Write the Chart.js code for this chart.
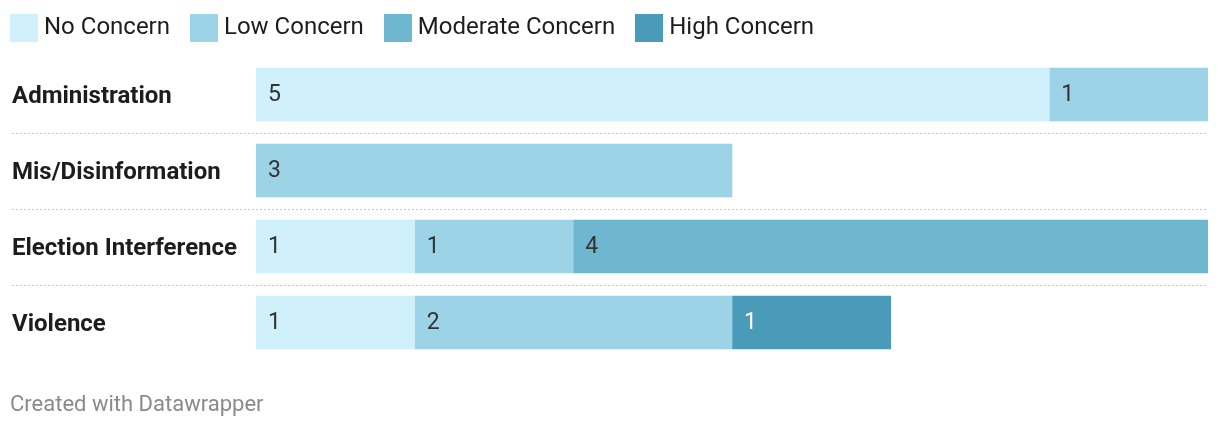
<!DOCTYPE html>
<html>
<head>
<meta charset="utf-8">
<script src="https://cdn.jsdelivr.net/npm/chart.js@4"></script>
<style>
  html, body { margin: 0; padding: 0; background: #fff; }
  body { width: 1220px; height: 428px; position: relative; overflow: hidden; font-family: Roboto, sans-serif; }
  #legend { position: absolute; left: 10px; top: 14px; display: flex; align-items: center; height: 28px; }
  .item { display: flex; align-items: center; margin-right: 20px; font-size: 24px; color: #1d1d1d; }
  .item span.t { position: relative; top: -2px; }
  .sw { width: 28px; height: 28px; margin-right: 6px; }
  #wrap { position: absolute; left: 0; top: 0; width: 1220px; height: 428px; }
  #footer { position: absolute; left: 10px; top: 391px; font-size: 22px; color: #8a8a8a; }
</style>
</head>
<body>
<div id="wrap"><canvas id="chart"></canvas></div>
<div id="legend"></div>
<div id="footer">Created with Datawrapper</div>
<script>
const categories = ['Administration', 'Mis/Disinformation', 'Election Interference', 'Violence']
const seriesNames = ['No Concern', 'Low Concern', 'Moderate Concern', 'High Concern']
const noConcern = [5, null, 1, 1]
const lowConcern = [1, 3, 1, 2]
const moderateConcern = [null, null, 4, null]
const highConcern = [null, null, null, 1]
const colors = ['#d0f0fc', '#9dd3e7', '#6fb6d0', '#4a9aba']
const labelColors = ['#333333', '#333333', '#333333', '#ffffff']

const legend = document.getElementById('legend')
seriesNames.forEach((name, i) => {
  const el = document.createElement('div')
  el.className = 'item'
  el.innerHTML = '<span class="sw" style="background:' + colors[i] + '"></span><span class="t">' + name + '</span>'
  legend.appendChild(el)
})

// dotted rules between the rows
const separators = {
  id: 'separators',
  beforeDatasetsDraw(chart) {
    const { ctx, scales: { y }, chartArea } = chart
    ctx.save()
    ctx.strokeStyle = '#c8c8c8'
    ctx.lineWidth = 1
    ctx.setLineDash([2, 2])
    for (let i = 0; i < categories.length - 1; i++) {
      const yy = Math.round((y.getPixelForValue(i) + y.getPixelForValue(i + 1)) / 2) + 0.5
      ctx.beginPath()
      ctx.moveTo(12, yy)
      ctx.lineTo(chartArea.right, yy)
      ctx.stroke()
    }
    ctx.restore()
  }
}

// value labels at the start of every segment
const valueLabels = {
  id: 'valueLabels',
  afterDatasetsDraw(chart) {
    const { ctx } = chart
    ctx.save()
    ctx.font = '23px Roboto'
    ctx.textBaseline = 'middle'
    ctx.textAlign = 'left'
    chart.data.datasets.forEach((ds, di) => {
      const meta = chart.getDatasetMeta(di)
      meta.data.forEach((bar, i) => {
        const v = ds.data[i]
        if (v == null) return
        ctx.fillStyle = labelColors[di]
        ctx.fillText(String(v), bar.base + 12, bar.y + 1)
      })
    })
    ctx.restore()
  }
}

const seriesData = [noConcern, lowConcern, moderateConcern, highConcern]

new Chart(document.getElementById('chart'), {
  type: 'bar',
  data: {
    labels: categories,
    datasets: seriesData.map((d, i) => ({
      label: seriesNames[i],
      data: d,
      backgroundColor: colors[i],
      borderWidth: 0,
      barThickness: 53
    }))
  },
  options: {
    indexAxis: 'y',
    responsive: true,
    maintainAspectRatio: false,
    animation: false,
    layout: { padding: { left: 12, right: 12, top: 56.5, bottom: 67.5 } },
    plugins: { legend: { display: false }, tooltip: { enabled: false } },
    scales: {
      x: { stacked: true, min: 0, max: 6, display: false },
      y: {
        stacked: true,
        grid: { display: false },
        border: { display: false },
        ticks: {
          crossAlign: 'far',
          padding: 0,
          labelOffset: 2,
          color: '#1d1d1d',
          font: { family: 'Roboto', size: 24, weight: 'bold' }
        },
        afterFit(scale) { scale.width = 244 }
      }
    }
  },
  plugins: [separators, valueLabels]
})
</script>
</body>
</html>
